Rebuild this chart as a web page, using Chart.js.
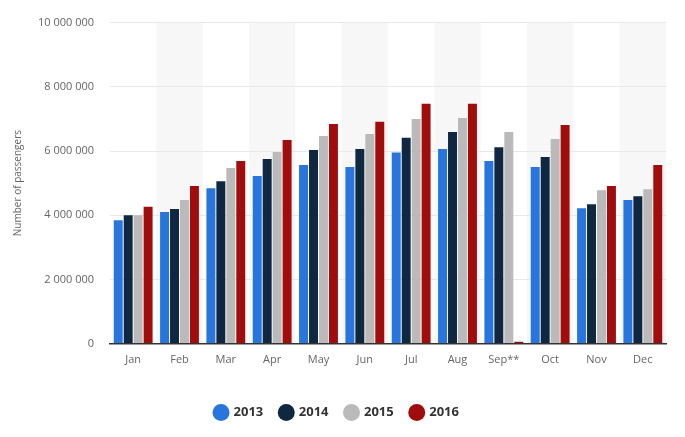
<!DOCTYPE html>
<html>
<head>
<meta charset="utf-8">
<script src="https://cdn.jsdelivr.net/npm/chart.js@4/dist/chart.umd.min.js"></script>
<style>
html,body{margin:0;padding:0;background:#fff;}
#wrap{width:685px;height:437px;position:relative;}
</style>
</head>
<body>
<div id="wrap"><canvas id="c" width="685" height="437"></canvas></div>
<script>
const categories = ["Jan","Feb","Mar","Apr","May","Jun","Jul","Aug","Sep**","Oct","Nov","Dec"];
const seriesNames = ["2013","2014","2015","2016"];
const v2013 = [3840000,4100000,4840000,5220000,5560000,5500000,5950000,6060000,5690000,5500000,4220000,4470000];
const v2014 = [4000000,4190000,5060000,5750000,6030000,6060000,6410000,6590000,6120000,5810000,4340000,4590000];
const v2015 = [4000000,4470000,5470000,5970000,6470000,6530000,7000000,7030000,6590000,6370000,4780000,4810000];
const v2016 = [4260000,4910000,5690000,6340000,6840000,6910000,7470000,7470000,60000,6810000,4910000,5560000];
const yTicks = [0,2000000,4000000,6000000,8000000,10000000];
const colors = ["#2876dd","#0f2740","#bababa","#a10c0c"];

const bandPlugin = {
  id:'bands',
  beforeDraw(chart){
    const {ctx, chartArea, scales} = chart;
    const x = scales.x;
    ctx.save();
    ctx.fillStyle = '#f7f7f7';
    const half = (x.getPixelForValue(1)-x.getPixelForValue(0))/2;
    for(let i=1;i<categories.length;i+=2){
      const c = x.getPixelForValue(i);
      ctx.fillRect(c-half, chartArea.top, half*2, chartArea.bottom-chartArea.top);
    }
    ctx.restore();
  }
};

const fmt = v => String(v).replace(/\B(?=(\d{3})+(?!\d))/g,' ');

new Chart(document.getElementById('c'),{
  type:'bar',
  data:{
    labels:categories,
    datasets:[v2013,v2014,v2015,v2016].map((d,i)=>({
      label:seriesNames[i], data:d, backgroundColor:colors[i],
      categoryPercentage:0.86, barPercentage:0.9
    }))
  },
  options:{
    responsive:false, animation:false,
    layout:{padding:{left:8,right:19,top:14,bottom:8}},
    plugins:{
      legend:{position:'bottom',
        title:{display:true,text:' ',font:{size:1},padding:{top:5,bottom:6}},
        labels:{usePointStyle:true,pointStyle:'circle',boxWidth:12,boxHeight:12,padding:17,
          color:'#333',font:{family:'Open Sans',size:13,weight:'bold'}}},
      tooltip:{enabled:false}
    },
    scales:{
      x:{
        grid:{display:false,drawTicks:false},
        border:{display:true,color:'#333',width:1.5},
        ticks:{color:'#666',font:{family:'Open Sans',size:11},padding:10}
      },
      y:{
        min:0,max:10000000,
        afterBuildTicks(s){ s.ticks = yTicks.map(v=>({value:v})); },
        afterFit(s){ s.width = 102; },
        grid:{color:'#e9e9e9',drawTicks:false},
        border:{display:false},
        ticks:{color:'#666',font:{family:'Open Sans',size:11},padding:16,callback:v=>fmt(v)},
        title:{display:true,text:'Number of passengers',color:'#666',font:{family:'Open Sans',size:10},padding:{bottom:6}}
      }
    }
  },
  plugins:[bandPlugin]
});
</script>
</body>
</html>
